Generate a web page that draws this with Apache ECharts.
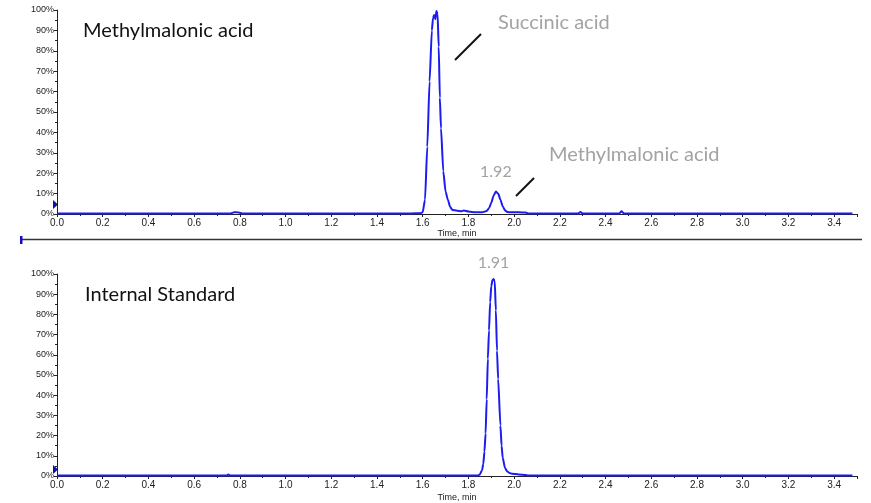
<!DOCTYPE html>
<html>
<head>
<meta charset="utf-8">
<script src="https://cdn.jsdelivr.net/npm/echarts@6/dist/echarts.min.js"></script>
<style>
  html, body { margin: 0; padding: 0; background: #fff; }
  #chart { width: 871px; height: 503px; }
</style>
</head>
<body>
<div id="chart"></div>
<script>
// Methylmalonic acid trace (retention time, min / relative intensity, %)
const mmaTime = [0.00, 0.30, 0.60, 0.76, 0.775, 0.785, 0.795, 0.81, 1.00, 1.30, 1.55, 1.59, 1.60, 1.61, 1.62, 1.63, 1.64, 1.645, 1.65, 1.655, 1.66, 1.665, 1.67, 1.675, 1.68, 1.69, 1.70, 1.71, 1.72, 1.73, 1.75, 1.77, 1.78, 1.80, 1.83, 1.86, 1.88, 1.89, 1.90, 1.91, 1.92, 1.93, 1.94, 1.95, 1.96, 1.97, 1.99, 2.02, 2.05, 2.06, 2.10, 2.28, 2.29, 2.30, 2.46, 2.47, 2.48, 2.70, 3.00, 3.30, 3.48];
const mmaIntensity = [0.3, 0.3, 0.3, 0.3, 0.8, 0.9, 0.7, 0.3, 0.3, 0.3, 0.3, 0.4, 0.9, 7, 33, 65, 90, 96, 97.5, 95.5, 99.5, 98, 82, 57, 42, 21, 11, 7, 3.5, 2, 1.6, 1.4, 1.7, 1.2, 0.8, 0.8, 1.5, 2.8, 5.5, 9, 11, 10, 7, 3.8, 1.8, 1.0, 0.8, 0.8, 0.7, 0.3, 0.3, 0.3, 1.0, 0.3, 0.3, 1.4, 0.3, 0.3, 0.3, 0.3, 0.3];

// Internal standard trace
const isTime = [0.00, 0.40, 0.74, 0.75, 0.76, 1.20, 1.60, 1.84, 1.85, 1.86, 1.865, 1.87, 1.875, 1.88, 1.885, 1.89, 1.895, 1.90, 1.905, 1.91, 1.915, 1.92, 1.925, 1.93, 1.94, 1.945, 1.95, 1.96, 1.97, 1.98, 1.99, 2.02, 2.05, 2.06, 2.50, 3.00, 3.48];
const isIntensity = [0.2, 0.2, 0.2, 0.7, 0.2, 0.2, 0.2, 0.2, 0.8, 3, 6, 12, 21, 38, 58, 72, 86, 94, 97, 97.5, 96.5, 82, 62, 48, 25, 15, 9, 4, 2.2, 1.5, 1.1, 0.8, 0.5, 0.2, 0.2, 0.2, 0.2];

// Axis tick settings
const timeMin = 0, timeMax = 3.5, timeStep = 0.2;
const pctMin = 0, pctMax = 100, pctStep = 10;

// Labelled retention times
const mmaApex = 1.92;
const isApex = 1.91;

const panelTitles = ['Methylmalonic acid', 'Internal Standard'];
const peakNames = ['Succinic acid', 'Methylmalonic acid'];

const lineBlue = '#1c1cf0';
const greyText = '#a3a3a3';
const annoFont = '"Lato", "Noto Sans", sans-serif';
const tickFont = '"Liberation Sans", Arial, sans-serif';

function toPairs(t, v) {
  return t.map((x, i) => [x, v[i]]);
}

// Retention-time label placed on the apex point of a trace
function apexMark(t, v, apex, gap) {
  const i = t.indexOf(apex);
  return {
    silent: true,
    symbol: 'circle', symbolSize: 0,
    label: {
      show: true, position: 'top', distance: gap, formatter: apex.toFixed(2),
      color: greyText, fontSize: 16, fontFamily: annoFont
    },
    data: [{ coord: [t[i], v[i]] }]
  };
}

function xAxisFor(gridIndex, gap) {
  return {
    type: 'value', gridIndex, min: timeMin, max: timeMax, interval: timeStep,
    name: 'Time, min', nameLocation: 'middle', nameGap: gap,
    nameTextStyle: { fontSize: 9, color: '#222', fontFamily: tickFont },
    axisLine: { lineStyle: { color: '#222', width: 1 } },
    axisTick: { length: 3, lineStyle: { color: '#222' } },
    minorTick: { show: true, splitNumber: 2, length: 2, lineStyle: { color: '#222' } },
    axisLabel: {
      fontSize: 10, color: '#222', margin: 4, fontFamily: tickFont,
      formatter: v => v.toFixed(1), showMaxLabel: false
    },
    splitLine: { show: false }
  };
}

function yAxisFor(gridIndex) {
  return {
    type: 'value', gridIndex, min: pctMin, max: pctMax, interval: pctStep,
    axisLine: { show: true, lineStyle: { color: '#222', width: 1 } },
    axisTick: { show: true, length: 3, lineStyle: { color: '#222' } },
    minorTick: { show: true, splitNumber: 2, length: 2, lineStyle: { color: '#222' } },
    axisLabel: {
      fontSize: 9, color: '#222', margin: 3, fontFamily: tickFont,
      formatter: '{value}%'
    },
    splitLine: { show: false }
  };
}

const chart = echarts.init(document.getElementById('chart'), null, { renderer: 'canvas' });

chart.setOption({
  animation: false,
  backgroundColor: '#fff',
  grid: [
    { left: 57, right: 14, top: 10, height: 204 },
    { left: 57, right: 14, top: 274, height: 205 }
  ],
  xAxis: [xAxisFor(0, 15), xAxisFor(1, 17)],
  yAxis: [yAxisFor(0), yAxisFor(1)],
  series: [
    {
      type: 'line', xAxisIndex: 0, yAxisIndex: 0, showSymbol: false, symbol: 'none',
      lineStyle: { color: lineBlue, width: 2 }, smooth: 0.2, smoothMonotone: 'x',
      data: toPairs(mmaTime, mmaIntensity),
      markPoint: apexMark(mmaTime, mmaIntensity, mmaApex, 12)
    },
    {
      type: 'line', xAxisIndex: 1, yAxisIndex: 1, showSymbol: false, symbol: 'none',
      lineStyle: { color: lineBlue, width: 2 }, smooth: 0.2, smoothMonotone: 'x',
      data: toPairs(isTime, isIntensity),
      markPoint: apexMark(isTime, isIntensity, isApex, 8)
    }
  ],
  graphic: [
    // panel titles
    { type: 'text', left: 83, top: 21, style: { text: panelTitles[0], fill: '#111', font: '20px ' + annoFont } },
    { type: 'text', left: 85, top: 285, style: { text: panelTitles[1], fill: '#111', font: '20px ' + annoFont } },
    // peak names
    { type: 'text', left: 498, top: 13, style: { text: peakNames[0], fill: greyText, font: '20px ' + annoFont } },
    { type: 'text', left: 549, top: 145, style: { text: peakNames[1], fill: greyText, font: '20px ' + annoFont } },
    // leader strokes
    { type: 'line', shape: { x1: 455, y1: 60, x2: 481, y2: 34 }, style: { stroke: '#111', lineWidth: 2 } },
    { type: 'line', shape: { x1: 516, y1: 196, x2: 534, y2: 178 }, style: { stroke: '#111', lineWidth: 2 } },
    // divider between panels
    { type: 'line', shape: { x1: 21, y1: 239.5, x2: 862, y2: 239.5 }, style: { stroke: '#333', lineWidth: 1.5 } },
    { type: 'rect', shape: { x: 20, y: 236, width: 2.5, height: 8 }, style: { fill: '#1010c0' } },
    // threshold markers on the intensity axes
    { type: 'polygon', shape: { points: [[53, 200], [58, 204.5], [53, 209]] }, style: { fill: '#1010b0' } },
    { type: 'polygon', shape: { points: [[53, 465], [58, 469.5], [53, 474]] }, style: { fill: '#1010b0' } }
  ]
});
</script>
</body>
</html>
